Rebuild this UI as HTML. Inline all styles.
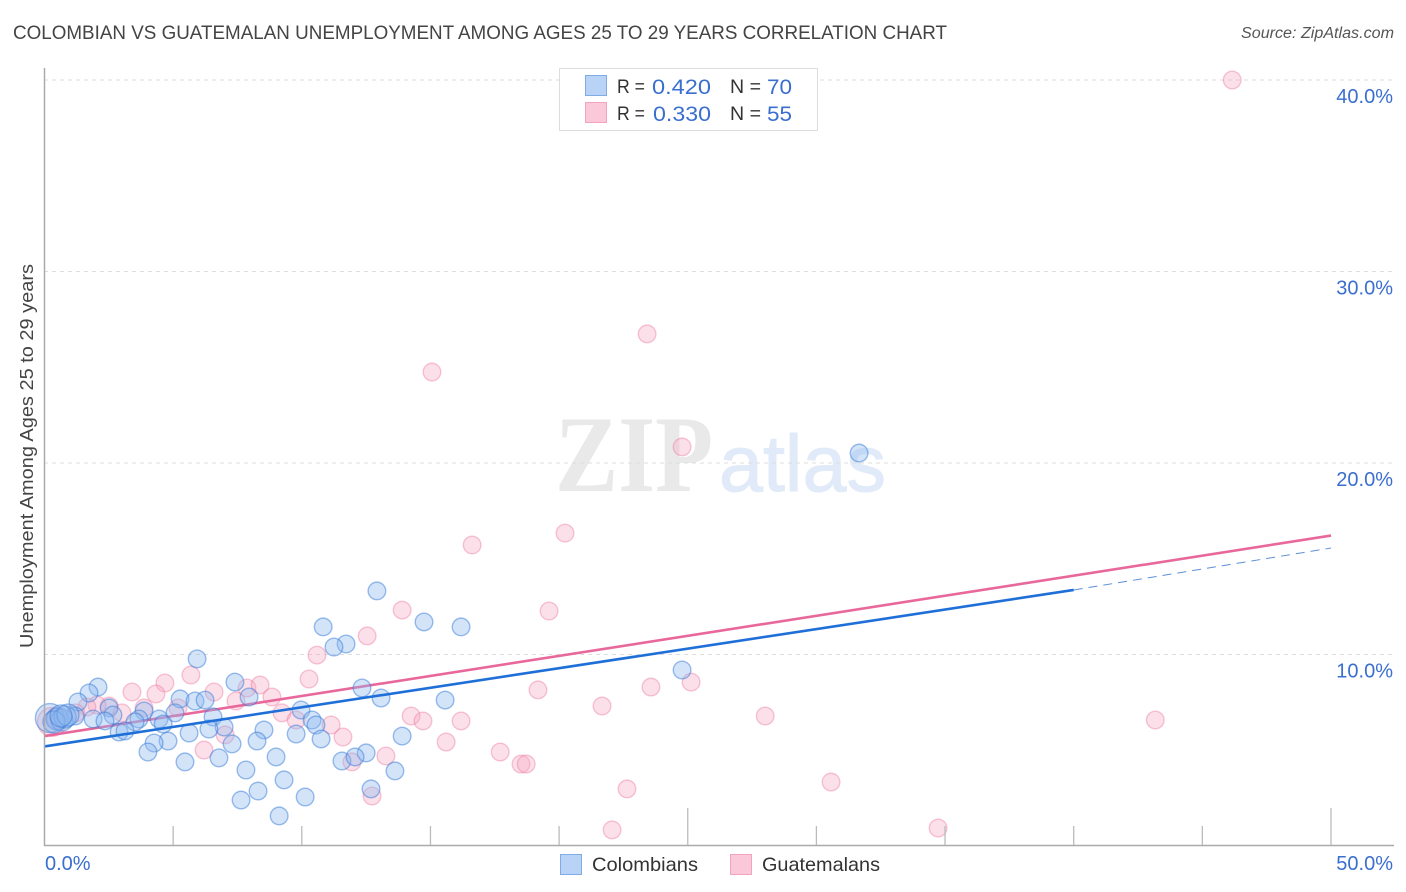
<!DOCTYPE html>
<html lang="en">
<head>
<meta charset="utf-8">
<title>Colombian vs Guatemalan Unemployment Correlation Chart</title>
<style>
html,body{margin:0;padding:0;background:#fff;width:1406px;height:892px;overflow:hidden}
svg{display:block}
text{font-family:"Liberation Sans",sans-serif}
</style>
</head>
<body>
<svg id="chart" width="1406" height="892" viewBox="0 0 1406 892" xmlns="http://www.w3.org/2000/svg">
  <rect x="0" y="0" width="1406" height="892" fill="#fff"/>
  <text x="13" y="39" font-size="19.5" fill="#444" textLength="934" lengthAdjust="spacingAndGlyphs">COLOMBIAN VS GUATEMALAN UNEMPLOYMENT AMONG AGES 25 TO 29 YEARS CORRELATION CHART</text>
  <text x="1241" y="38" font-size="15.5" font-style="italic" fill="#555" textLength="153" lengthAdjust="spacingAndGlyphs">Source: ZipAtlas.com</text>
  <g>
    <text x="555" y="491" font-size="109" font-weight="bold" fill="#e9e9e9" textLength="158" lengthAdjust="spacingAndGlyphs" style="font-family:'Liberation Serif',serif">ZIP</text>
    <text x="719" y="491" font-size="80" fill="#e0eaf8" stroke="#e0eaf8" stroke-width="1" textLength="167" lengthAdjust="spacingAndGlyphs">atlas</text>
  </g>
  <g id="grid"></g>
  <g id="pink-points"></g>
  <g id="pink-trend"></g>
  <g id="blue-points"></g>
  <g id="blue-trend"></g>
  <g id="axes"></g>
  <text transform="translate(33,456) rotate(-90)" font-size="18.5" fill="#444" text-anchor="middle" textLength="384" lengthAdjust="spacingAndGlyphs">Unemployment Among Ages 25 to 29 years</text>
  <g>
    <rect x="559.5" y="68.5" width="258" height="62" fill="#fff" stroke="#ddd" stroke-width="1"/>
    <rect x="585.5" y="75.5" width="21" height="20" fill="#b9d3f6" stroke="#7fabe6" stroke-width="1"/>
    <rect x="585.5" y="102.5" width="21" height="20" fill="#fbc8d9" stroke="#f2a3bd" stroke-width="1"/>
    <text x="617" y="93" font-size="19.5" fill="#333" textLength="28" lengthAdjust="spacingAndGlyphs">R =</text>
    <text x="652" y="94" font-size="21" fill="#3a6fd0" textLength="59" lengthAdjust="spacingAndGlyphs">0.420</text>
    <text x="730" y="93" font-size="19.5" fill="#333" textLength="31" lengthAdjust="spacingAndGlyphs">N =</text>
    <text x="767" y="94" font-size="21" fill="#3a6fd0" textLength="25" lengthAdjust="spacingAndGlyphs">70</text>
    <text x="617" y="120" font-size="19.5" fill="#333" textLength="28" lengthAdjust="spacingAndGlyphs">R =</text>
    <text x="653" y="121" font-size="21" fill="#3a6fd0" textLength="58" lengthAdjust="spacingAndGlyphs">0.330</text>
    <text x="730" y="120" font-size="19.5" fill="#333" textLength="31" lengthAdjust="spacingAndGlyphs">N =</text>
    <text x="767" y="121" font-size="21" fill="#3a6fd0" textLength="25" lengthAdjust="spacingAndGlyphs">55</text>
  </g>
  <g>
    <rect x="560.5" y="854.5" width="21" height="20" fill="#b9d3f6" stroke="#7fabe6" stroke-width="1"/>
    <text x="592" y="871" font-size="19.5" fill="#333" textLength="106" lengthAdjust="spacingAndGlyphs">Colombians</text>
    <rect x="730.5" y="854.5" width="21" height="20" fill="#fbc8d9" stroke="#f2a3bd" stroke-width="1"/>
    <text x="762" y="871" font-size="19.5" fill="#333" textLength="118" lengthAdjust="spacingAndGlyphs">Guatemalans</text>
  </g>
</svg>
<script>
const colombianX = [31.66,12.92,10.83,11.72,11.25,14.75,16.19,5.93,24.78,2.08,1.73,1.30,7.40,5.27,5.85,6.24,7.95,2.51,2.66,3.87,1.19,1.89,2.35,5.07,4.45,4.61,3.67,3.52,2.90,3.13,6.55,6.98,6.39,5.62,4.80,4.26,4.02,7.29,5.46,6.78,8.53,8.26,9.78,9.97,10.40,10.55,10.75,9.00,7.83,9.31,8.30,7.64,10.13,9.12,11.56,12.34,13.08,15.57,13.90,12.50,12.07,13.62,12.69,0.21,0.49,0.68,0.80,0.37,0.91,0.64];
const colombianY = [20.52,13.32,11.44,10.55,10.39,11.70,11.44,9.77,9.19,8.30,7.99,7.52,8.56,7.68,7.57,7.62,7.78,7.21,6.84,7.05,6.79,6.63,6.53,6.95,6.63,6.37,6.63,6.48,5.95,6.01,6.74,6.21,6.11,5.90,5.48,5.38,4.91,5.33,4.39,4.60,6.06,5.48,5.85,7.10,6.58,6.32,5.59,4.65,3.97,3.45,2.87,2.40,2.56,1.57,4.44,8.25,7.73,7.62,5.74,4.86,4.65,3.92,2.98,6.68,6.63,6.58,6.74,6.48,6.84,6.79];
const guatemalanX = [46.16,23.42,15.06,24.78,16.62,20.23,19.61,13.90,12.54,10.59,10.28,5.69,4.68,3.40,4.33,6.59,7.87,8.38,8.84,7.44,9.23,9.78,11.14,11.60,7.02,6.20,5.19,3.87,3.01,2.51,2.04,1.65,1.22,0.29,0.52,14.25,14.71,16.19,15.61,13.27,11.95,17.71,18.52,18.72,12.73,19.18,21.67,23.57,25.13,28.01,43.17,30.57,22.64,22.06,34.73];
const guatemalanY = [40.00,26.74,24.75,20.84,15.72,16.34,12.27,12.32,10.97,9.97,8.72,8.93,8.51,8.04,7.94,8.04,8.25,8.41,7.78,7.57,6.95,6.58,6.32,5.69,5.80,5.01,7.21,7.21,6.95,7.31,7.36,7.26,6.95,6.48,6.68,6.79,6.53,6.53,5.43,4.70,4.39,4.91,4.28,4.28,2.61,8.15,7.31,8.30,8.56,6.79,6.58,3.34,2.98,0.84,0.94];
const colombianTrendX = [0,40];
const colombianTrendY = [5.2,13.37];
const colombianExtensionX = [40,50];
const colombianExtensionY = [13.37,15.56];
const guatemalanTrendX = [0,50];
const guatemalanTrendY = [5.74,16.21];
const yTickValues = [10,20,30,40];
const yTickLabels = ["10.0%","20.0%","30.0%","40.0%"];
const xTickValues = [5,10,15,20,25,30,35,40,45,50];
const xMajorTicks = [25,50];
const xEndLabels = ["0.0%","50.0%"];

const NS = "http://www.w3.org/2000/svg";
const xAxis = v => 44.5 + v * 25.73;
const yAxis = v => 846 - v * 19.15;

function make(parent, tag, attrs) {
  const el = document.createElementNS(NS, tag);
  for (const k in attrs) el.setAttribute(k, attrs[k]);
  parent.appendChild(el);
  return el;
}

const grid = document.getElementById("grid");
const axes = document.getElementById("axes");
yTickValues.forEach((v, i) => {
  const g = make(grid, "line", {x1: 44, x2: 1394, y1: yAxis(v), y2: yAxis(v), stroke: "#ddd", "stroke-width": 1, "stroke-dasharray": "4 4"});
  
  
  const t = make(axes, "text", {x: 1393, y: yAxis(v) + 23, "font-size": 20, fill: "#3a6fd0", "text-anchor": "end"});
  
  
  t.textContent = yTickLabels[i];
});

const yLine = make(axes, "line", {x1: 44.5, x2: 44.5, y1: 68, y2: 846, stroke: "#aaa", "stroke-width": 1.5});


const xLine = make(axes, "line", {x1: 44, x2: 1394, y1: 845.5, y2: 845.5, stroke: "#aaa", "stroke-width": 1.5});



xTickValues.forEach(v => {
  const top = xMajorTicks.includes(v) ? 808 : 826;
  const t = make(axes, "line", {x1: xAxis(v), x2: xAxis(v), y1: top, y2: 845, stroke: "#bbb", "stroke-width": 1.3});
  
  
});

const xl0 = make(axes, "text", {x: 45, y: 870, "font-size": 20, fill: "#3a6fd0"});


xl0.textContent = xEndLabels[0];
const xl1 = make(axes, "text", {x: 1393, y: 870, "font-size": 20, fill: "#3a6fd0", "text-anchor": "end"});


xl1.textContent = xEndLabels[1];

function radiusFor(x) {
  if (x < 0.3) return 14.5;
  if (x < 1) return 11;
  return 8.8;
}

function drawPoints(groupId, xs, ys, fill, stroke) {
  const group = document.getElementById(groupId);
  xs.forEach((x, i) => {
    const c = make(group, "circle", {cx: xAxis(x), cy: yAxis(ys[i]), r: radiusFor(x), fill: fill, stroke: stroke, "stroke-width": 1.4});
    
    
  });
}
drawPoints("pink-points", guatemalanX, guatemalanY, "rgba(248,170,195,0.36)", "rgba(236,120,160,0.42)");
drawPoints("blue-points", colombianX, colombianY, "rgba(140,185,240,0.38)", "rgba(50,120,215,0.48)");

function drawLine(groupId, name, xs, ys, stroke, width, dash) {
  const attrs = {x1: xAxis(xs[0]), y1: yAxis(ys[0]), x2: xAxis(xs[1]), y2: yAxis(ys[1]), stroke: stroke, "stroke-width": width};
  if (dash) attrs["stroke-dasharray"] = dash;
  const l = make(document.getElementById(groupId), "line", attrs);
  
  
}
drawLine("pink-trend", "guatemalans-trend-line", guatemalanTrendX, guatemalanTrendY, "#e9689b", 2.6);
drawLine("blue-trend", "colombians-trend-line", colombianTrendX, colombianTrendY, "#1f6fd8", 2.6);
drawLine("blue-trend", "colombians-trend-extension", colombianExtensionX, colombianExtensionY, "#5c8fd8", 1, "9 6");
</script>
</body>
</html>
